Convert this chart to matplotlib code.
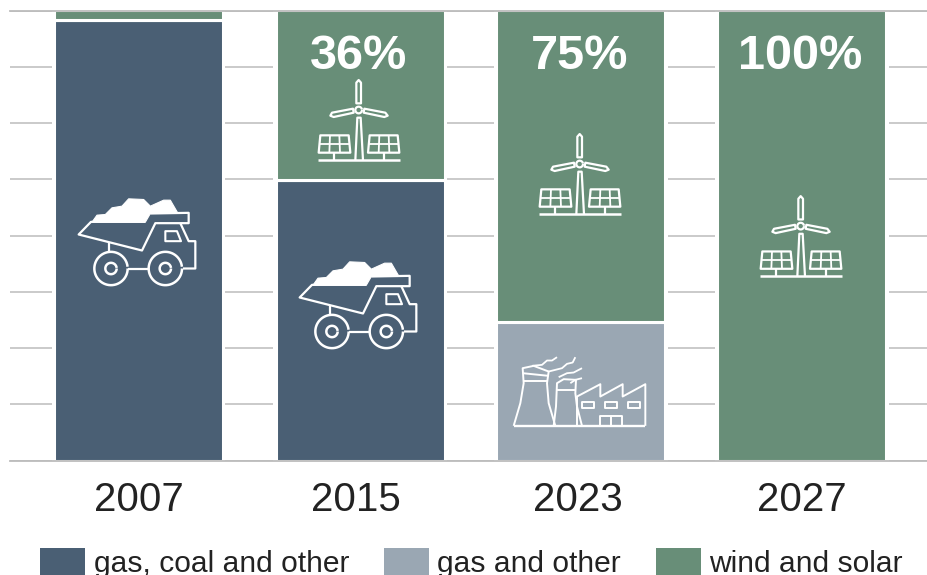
#!/usr/bin/env python3
import matplotlib
matplotlib.use("Agg")
import matplotlib.pyplot as plt
from matplotlib.patches import Rectangle, Polygon
import numpy as np

plt.rcParams['font.family'] = ['Liberation Sans', 'DejaVu Sans']

################################################################################
# data
################################################################################

years = ["2007", "2015", "2023", "2027"]
coal = [97.8, 62.4, 0, 0]
gas = [0, 0, 30.8, 0]
renew = [2.2, 37.6, 69.2, 100]
share_labels = ["", "36%", "75%", "100%"]
share_label_y = [None, 89.8, 89.8, 89.8]

legend_labels = ["gas, coal and other", "gas and other", "wind and solar"]

# the year labels sit a little left of the bar centres in the original
year_shift_px = [0, -4, -3, 0]

# icon anchors: bar index, value on the y axis
truck_at = [(0, 48.0), (1, 34.0)]
factory_at = [(2, 7.7)]
wind_at = [(1, 66.7), (2, 54.7), (3, 40.9)]

COAL = "#4a5f74"
GAS = "#9aa7b3"
GREEN = "#688e78"
GRID = "#bcbcbc"
TEXT = "#222222"

################################################################################
# figure
################################################################################

W, H = 928, 575
fig = plt.figure(figsize=(W / 100, H / 100), dpi=100)
ax = fig.add_axes([10 / W, 1 - 460.5 / H, 918 / W, 450 / H])

step = 221.0  # pixels between bar centres
ax.set_xlim((10 - 139) / step, (928 - 139) / step)
ax.set_ylim(0, 100)
px_x = 1 / step
px_y = 100 / 450

x = np.arange(len(years))
ax.set_yticks(np.arange(0, 101, 12.5))
ax.set_yticklabels([])
ax.tick_params(axis='y', length=0)
ax.grid(axis='y', color=GRID, lw=1.1)
ax.set_axisbelow(True)
ax.set_xticks(x + np.array(year_shift_px) * px_x, years, fontsize=29, color=TEXT)
ax.tick_params(axis='x', length=0, pad=15)
for s in ['left', 'right']:
    ax.spines[s].set_visible(False)
for s in ['top', 'bottom']:
    ax.spines[s].set_color(GRID)
    ax.spines[s].set_linewidth(1.3)
    ax.spines[s].set_zorder(6)

# white gaps that cut the grid lines either side of a bar
ax.bar(x, [100] * 4, width=173 * px_x, color="white", zorder=2)

bar_kw = dict(width=169 * px_x, edgecolor="white", linewidth=2.2, zorder=3)
ax.bar(x, coal, color=COAL, **bar_kw)
ax.bar(x, gas, bottom=coal, color=GAS, **bar_kw)
ax.bar(x, renew, bottom=np.add(coal, gas), color=GREEN, **bar_kw)

for i, label in enumerate(share_labels):
    if label:
        ax.text(i - 1.5 * px_x, share_label_y[i], label, color="white", fontsize=35,
                fontweight="bold", ha="center", va="center", zorder=5)

################################################################################
# icons, sketched in zoomed pixels (3x) around their own anchor
################################################################################

def toData(points, i, v, ox, oy):
    pts = (np.array(points, dtype=float) - [ox, oy]) / 3
    return np.column_stack([i + pts[:, 0] * px_x, v - pts[:, 1] * px_y])

def line(points, i, v, ox, oy, closed=False, fill=False, lw=1.6):
    xy = toData(points, i, v, ox, oy)
    ax.add_patch(Polygon(xy, closed=closed, fill=fill, facecolor="white" if fill else "none",
                         edgecolor="white", lw=lw, joinstyle="round", zorder=4))

def ring(cx, cy, r, i, v, ox, oy, lw=1.6):
    t = np.linspace(0, 2 * np.pi, 60)
    line(np.column_stack([cx + r * np.cos(t), cy + r * np.sin(t)]), i, v, ox, oy, lw=lw)

def truck(i, v):
    o = (236, 165)
    line([(95, 98), (110, 77), (135, 75), (155, 55), (185, 50), (205, 28), (250, 30), (270, 50),
          (310, 32), (330, 32), (352, 70), (270, 72), (255, 98)],
         i, v, *o, closed=True, fill=True, lw=0.8)
    line([(270, 72), (385, 70), (385, 101), (285, 101), (245, 183), (55, 135), (92, 97), (255, 97)],
         i, v, *o, lw=1.6)
    line([(360, 101), (385, 155), (405, 155), (405, 237), (368, 237)], i, v, *o)
    line([(315, 125), (350, 125), (362, 155), (315, 155)], i, v, *o, closed=True, lw=1.5)
    line([(145, 160), (145, 190)], i, v, *o)
    line([(202, 237), (265, 237)], i, v, *o)
    for cx in (152, 315):
        ring(cx, 237, 50, i, v, *o, lw=1.8)
        ring(cx, 237, 17, i, v, *o, lw=1.8)

def wind(i, v):
    o = (269, 483)
    line([(255, 483), (261, 355), (271, 355), (278, 483)], i, v, *o)
    ring(265, 332, 10, i, v, *o)
    line([(258, 312), (258, 250), (265, 242), (272, 250), (272, 312)], i, v, *o, closed=True)
    line([(248, 328), (185, 340), (180, 349), (190, 353), (250, 340)], i, v, *o, closed=True)
    line([(282, 328), (345, 340), (352, 349), (342, 353), (280, 340)], i, v, *o, closed=True)
    for l, r, cx in ((150, 235, 192), (298, 382, 340)):
        line([(l, 408), (r, 408), (r + 5, 460), (l - 5, 460)], i, v, *o, closed=True)
        line([(l - 3, 433), (r + 3, 433)], i, v, *o, lw=1.3)
        line([(l + 29, 408), (l + 27, 460)], i, v, *o, lw=1.3)
        line([(l + 57, 408), (l + 59, 460)], i, v, *o, lw=1.3)
        line([(cx, 460), (cx, 483)], i, v, *o)
    line([(143, 483), (388, 483)], i, v, *o, lw=1.8)

def factory(i, v):
    o = (247, 258)
    line([(45, 258), (440, 258)], i, v, *o, lw=1.7)
    # cooling towers
    line([(45, 258), (65, 190), (75, 130), (72, 85), (105, 78), (150, 95), (145, 130), (150, 190), (170, 258)],
         i, v, *o, lw=1.4)
    line([(72, 100), (150, 108)], i, v, *o, lw=1.4)
    line([(73, 122), (146, 122)], i, v, *o, lw=1.4)
    line([(165, 258), (172, 200), (175, 130), (195, 118), (232, 120), (230, 160), (235, 200), (250, 258)],
         i, v, *o, lw=1.4)
    line([(174, 150), (231, 150)], i, v, *o, lw=1.4)
    # smoke
    line([(100, 78), (130, 75), (145, 62), (160, 62), (175, 52)], i, v, *o, lw=1.3)
    line([(150, 95), (190, 85), (205, 72), (222, 68), (230, 52)], i, v, *o, lw=1.3)
    line([(180, 112), (205, 100), (225, 98), (250, 85)], i, v, *o, lw=1.3)
    line([(215, 130), (230, 120), (250, 115)], i, v, *o, lw=1.3)
    # factory
    line([(235, 258), (235, 170), (305, 133), (305, 170), (372, 133), (372, 170), (440, 133), (440, 258)],
         i, v, *o, lw=1.4)
    for l in (250, 320, 388):
        line([(l, 185), (l + 35, 185), (l + 35, 203), (l, 203)], i, v, *o, closed=True, lw=1.4)
    line([(305, 258), (305, 228), (370, 228), (370, 258)], i, v, *o, lw=1.4)
    line([(338, 228), (338, 258)], i, v, *o, lw=1.4)

for i, v in truck_at:
    truck(i, v)
for i, v in factory_at:
    factory(i, v)
for i, v in wind_at:
    wind(i, v)

################################################################################
# legend
################################################################################

for label, color, left, right, text_x in zip(legend_labels, [COAL, GAS, GREEN],
                                             [40, 384, 656], [85, 429, 701], [94, 437, 709]):
    fig.add_artist(Rectangle((left / W, 0), (right - left) / W, 27 / H,
                             transform=fig.transFigure, color=color, lw=0))
    fig.text(text_x / W, 1 - 571.7 / H, label, fontsize=21.6, color=TEXT,
             ha="left", va="baseline")

fig.savefig("out.png", dpi=100)
